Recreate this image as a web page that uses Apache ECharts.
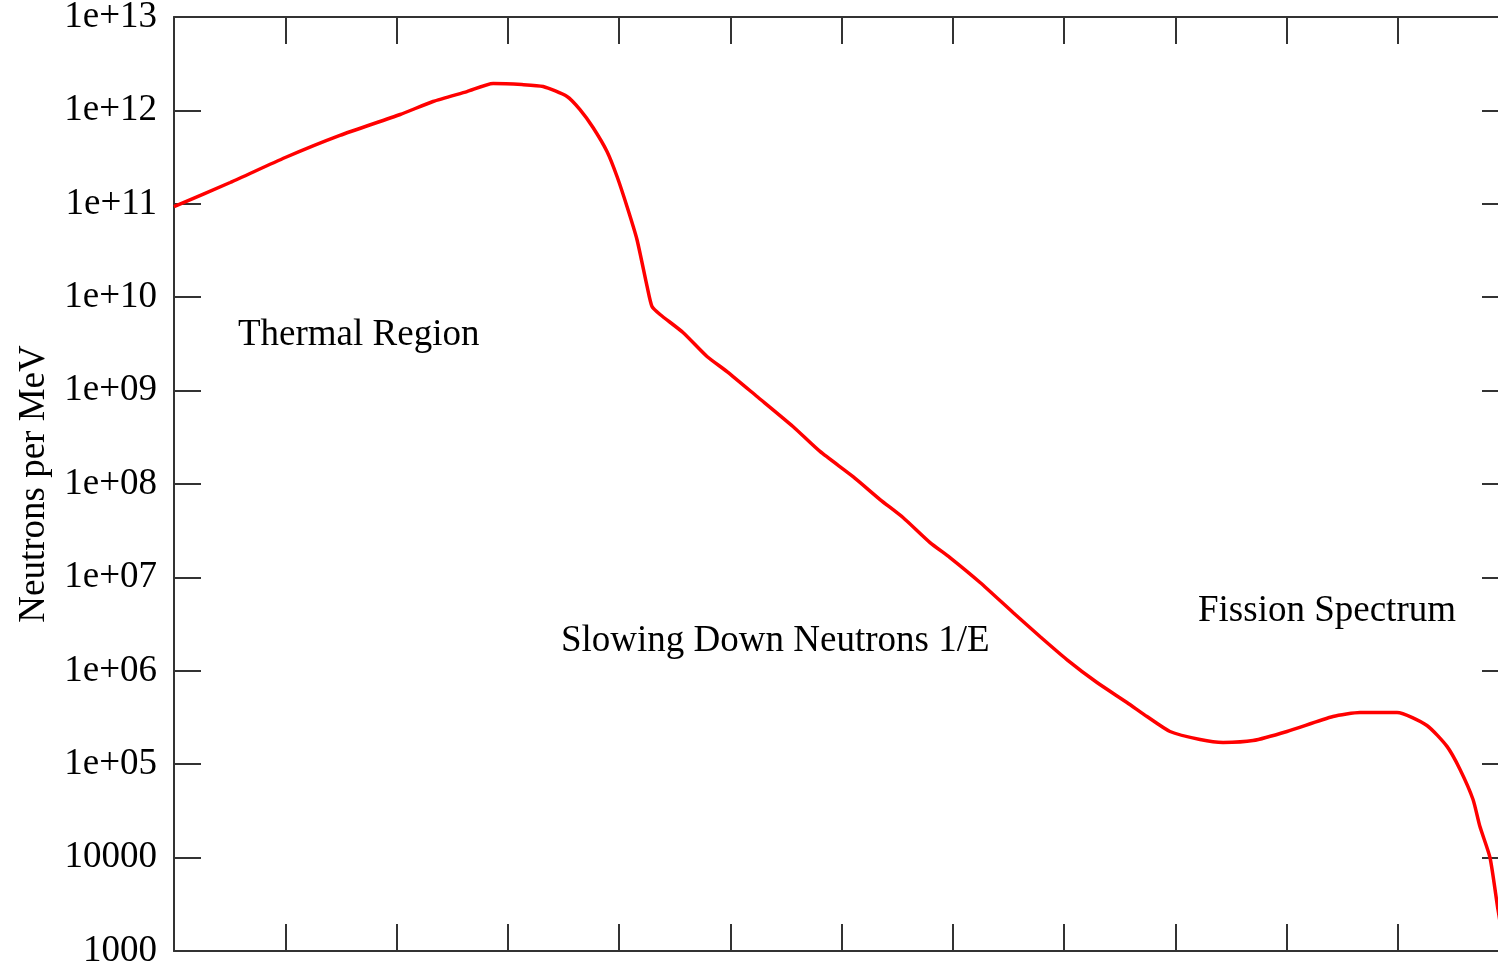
<!DOCTYPE html>
<html>
<head>
<meta charset="utf-8">
<script src="https://cdn.jsdelivr.net/npm/echarts@6/dist/echarts.min.js"></script>
<style>
  html, body { margin: 0; padding: 0; background: #fff; }
  #chart { width: 1498px; height: 963px; }
</style>
</head>
<body>
<div id="chart"></div>
<script>
// Neutron energy (MeV) and flux (neutrons per MeV)
var energyMeV = [
  1.0e-11, 3.2e-11, 1.0e-10, 3.1e-10, 1.08e-9, 2.13e-9, 4.3e-9, 7.4e-9,
  1.34e-8, 2.08e-8, 3.41e-8, 4.46e-8, 5.84e-8, 7.8e-8, 9.6e-8, 1.18e-7,
  1.45e-7, 1.79e-7, 1.98e-7, 2.34e-7, 3.76e-7, 6.18e-7, 9.35e-7, 1.74e-6,
  3.66e-6, 6.41e-6, 1.27e-5, 2.22e-5, 3.57e-5, 6.25e-5, 9.44e-5, 1.76e-4,
  3.48e-4, 6.08e-4, 1.06e-3, 1.98e-3, 3.68e-3, 5.57e-3, 8.97e-3, 1.67e-2,
  2.69e-2, 5.0e-2, 0.101, 0.262, 0.458, 0.985, 1.83, 2.77,
  3.63, 4.75, 5.48, 6.75, 7.96, 10.0
];
var neutronsPerMeV = [
  9.35e10, 1.69e11, 3.13e11, 5.4e11, 9.04e11, 1.245e12, 1.59e12, 1.94e12,
  1.89e12, 1.80e12, 1.41e12, 1.02e12, 6.56e11, 3.63e11, 1.96e11, 9.35e10,
  4.15e10, 1.30e10, 7.95e9, 6.53e9, 4.19e9, 2.32e9, 1.60e9, 8.65e8,
  4.13e8, 2.23e8, 1.20e8, 6.82e7, 4.38e7, 2.36e7, 1.63e7, 8.82e6,
  4.21e6, 2.33e6, 1.32e6, 7.49e5, 4.58e5, 3.24e5, 2.24e5, 1.84e5,
  1.71e5, 1.79e5, 2.24e5, 3.24e5, 3.58e5, 3.58e5, 2.60e5, 1.55e5,
  8.78e4, 4.19e4, 2.15e4, 1.0e4, 2.78e3, 560
];
var yTickLabels = ['1000', '10000', '1e+05', '1e+06', '1e+07', '1e+08',
  '1e+09', '1e+10', '1e+11', '1e+12', '1e+13'];
var yAxisTitle = 'Neutrons per MeV';
var regionLabels = ['Thermal Region', 'Slowing Down Neutrons 1/E', 'Fission Spectrum'];

var FONT = '"Liberation Serif", "DejaVu Serif", serif';
var AXIS_COLOR = '#333333';

var chart = echarts.init(document.getElementById('chart'), null, { renderer: 'canvas' });

var seriesData = energyMeV.map(function (e, i) { return [e, neutronsPerMeV[i]]; });

function xAxisDef(pos) {
  return {
    type: 'log', logBase: 10, position: pos,
    min: 1e-11, max: 10, interval: 1,
    axisLine: { show: true, onZero: false, lineStyle: { color: AXIS_COLOR, width: 2 } },
    axisTick: { show: true, inside: true, interval: 0, length: 27, lineStyle: { color: AXIS_COLOR, width: 2 } },
    axisLabel: { show: false, interval: 0 },
    splitLine: { show: false },
    minorTick: { show: false }
  };
}

var option = {
  animation: false,
  backgroundColor: '#ffffff',
  grid: {
    left: 174, top: 17, right: -11, bottom: 12,
    containLabel: false,
    outerBoundsMode: 'none'
  },
  xAxis: [xAxisDef('bottom'), xAxisDef('top')],
  yAxis: [
    {
      type: 'log', logBase: 10, position: 'left',
      min: 1000, max: 1e13, interval: 1,
      name: yAxisTitle, nameLocation: 'middle', nameRotate: 90, nameGap: 121,
      nameTextStyle: { fontFamily: FONT, fontSize: 37, color: '#000' },
      axisLine: { show: true, onZero: false, lineStyle: { color: AXIS_COLOR, width: 2 } },
      axisTick: { show: true, inside: true, interval: 0, length: 27, lineStyle: { color: AXIS_COLOR, width: 2 } },
      axisLabel: {
        show: true, interval: 0, margin: 17, fontFamily: FONT, fontSize: 37, color: '#000',
        formatter: function (v) {
          var idx = Math.round(Math.log10(v)) - 3;
          return yTickLabels[idx] !== undefined ? yTickLabels[idx] : '';
        }
      },
      splitLine: { show: false },
      minorTick: { show: false }
    },
    {
      type: 'log', logBase: 10, position: 'right',
      min: 1000, max: 1e13, interval: 1,
      axisLine: { show: true, onZero: false, lineStyle: { color: AXIS_COLOR, width: 2 } },
      axisTick: { show: true, inside: true, interval: 0, length: 27, lineStyle: { color: AXIS_COLOR, width: 2 } },
      axisLabel: { show: false },
      splitLine: { show: false }
    }
  ],
  series: [{
    type: 'line',
    xAxisIndex: 0, yAxisIndex: 0,
    data: seriesData,
    showSymbol: false,
    symbol: 'none',
    clip: true,
    smooth: 0.2,
    lineStyle: { color: '#ff0000', width: 3.5 },
    z: 3
  }],
  graphic: [
    { type: 'text', x: 238, y: 335, style: { text: regionLabels[0], font: '37px ' + FONT, fill: '#000', textAlign: 'left', textVerticalAlign: 'middle' } },
    { type: 'text', x: 561, y: 641, style: { text: regionLabels[1], font: '37px ' + FONT, fill: '#000', textAlign: 'left', textVerticalAlign: 'middle' } },
    { type: 'text', x: 1198, y: 611, style: { text: regionLabels[2], font: '37px ' + FONT, fill: '#000', textAlign: 'left', textVerticalAlign: 'middle' } }
  ]
};

chart.setOption(option);
</script>
</body>
</html>
